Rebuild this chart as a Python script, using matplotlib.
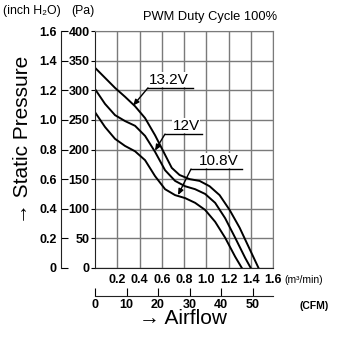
import matplotlib
matplotlib.use("Agg")
import matplotlib.pyplot as plt
from matplotlib.ticker import FixedLocator, FixedFormatter

# FAN CURVE DATA, airflow in m3/min, pressure in Pa
q_132 = [0, 0.09, 0.18, 0.27, 0.36, 0.45, 0.54, 0.63, 0.69, 0.76, 0.85, 0.94, 1.03, 1.12, 1.21, 1.30, 1.39, 1.47]
p_132 = [338, 321, 304, 289, 273, 253, 224, 191, 169, 157, 150, 147, 138, 123, 98, 68, 32, 0]

q_120 = [0, 0.09, 0.18, 0.27, 0.36, 0.45, 0.54, 0.63, 0.72, 0.81, 0.90, 0.99, 1.08, 1.17, 1.26, 1.35, 1.40]
p_120 = [302, 277, 258, 248, 240, 223, 196, 165, 147, 138, 133, 125, 110, 84, 51, 17, 0]

q_108 = [0, 0.09, 0.18, 0.27, 0.36, 0.45, 0.54, 0.63, 0.72, 0.81, 0.90, 0.99, 1.08, 1.17, 1.26, 1.32]
p_108 = [263, 238, 218, 206, 197, 182, 155, 133, 123, 118, 110, 98, 78, 51, 19, 0]

# AXIS TICKS
pa_ticks = [0, 50, 100, 150, 200, 250, 300, 350, 400]
inch_ticks = [0, 0.2, 0.4, 0.6, 0.8, 1.0, 1.2, 1.4, 1.6]
inch_labels = ["0", "0.2", "0.4", "0.6", "0.8", "1.0", "1.2", "1.4", "1.6"]
m3_ticks = [0.2, 0.4, 0.6, 0.8, 1.0, 1.2, 1.4, 1.6]
m3_labels = ["0.2", "0.4", "0.6", "0.8", "1.0", "1.2", "1.4", "1.6"]
cfm_ticks = [0, 10, 20, 30, 40, 50]

W, H = 340, 337
FONT = ["Liberation Sans", "DejaVu Sans"]
GRID = "#7a7a7a"
NUM_SIZE = 9


def fx(px):
    return px / W


def fy(py):
    return (H - py) / H


def style_numbers(labels):
    for lab in labels:
        lab.set_family(FONT)
        lab.set_fontweight("bold")
        lab.set_fontsize(NUM_SIZE)


fig = plt.figure(figsize=(W / 100, H / 100), dpi=100)
fig.patch.set_facecolor("white")

# main plot box
x0, x1, ytop, ybot = 95, 273, 31, 268
ax = fig.add_axes([fx(x0), fy(ybot), (x1 - x0) / W, (ybot - ytop) / H])
ax.set_xlim(0, 1.6)
ax.set_ylim(0, 400)
ax.xaxis.set_major_locator(FixedLocator(m3_ticks))
ax.xaxis.set_major_formatter(FixedFormatter(m3_labels))
ax.yaxis.set_major_locator(FixedLocator(pa_ticks))
ax.grid(True, color=GRID, lw=1)
ax.tick_params(axis="x", length=0, pad=4)
ax.tick_params(axis="y", length=3, width=0.8, pad=1, direction="out")
style_numbers(ax.get_xticklabels() + ax.get_yticklabels())
for side in ["top", "right"]:
    ax.spines[side].set_color(GRID)
for side in ["left", "bottom"]:
    ax.spines[side].set_color("#222222")

for q, p in [(q_132, p_132), (q_120, p_120), (q_108, p_108)]:
    ax.plot(q, p, color="black", lw=1.4, solid_joinstyle="round")


# labels with leader lines
def label(text, tx, ty, u0, u1, tip):
    ax.text(tx, ty, text, ha="center", va="bottom", fontsize=11,
            family=FONT, bbox=dict(facecolor="white", edgecolor="none", pad=0.3))
    ax.plot([u0, u1], [ty - 2, ty - 2], color="black", lw=1)
    ax.annotate("", xy=tip, xytext=(u0, ty - 2),
                arrowprops=dict(arrowstyle="-|>,head_length=0.35,head_width=0.15",
                                color="black", lw=1, shrinkA=0, shrinkB=0))


label("13.2V", 0.665, 306, 0.476, 0.881, (0.342, 274))
label("12V", 0.818, 228, 0.629, 0.962, (0.539, 198))
label("10.8V", 1.115, 169, 0.863, 1.321, (0.746, 123))

# inch H2O axis
ax_in = fig.add_axes([fx(61), fy(ybot), 0.01, (ybot - ytop) / H])
ax_in.set_ylim(0, 1.6)
ax_in.set_xticks([])
ax_in.yaxis.set_major_locator(FixedLocator(inch_ticks))
ax_in.yaxis.set_major_formatter(FixedFormatter(inch_labels))
ax_in.tick_params(axis="y", direction="in", length=5, width=0.8, pad=3)
style_numbers(ax_in.get_yticklabels())
for side in ["top", "right", "bottom"]:
    ax_in.spines[side].set_visible(False)
ax_in.spines["left"].set_color("#222222")
ax_in.patch.set_visible(False)

# CFM axis
ax_cfm = fig.add_axes([fx(x0), fy(296), (x1 - x0) / W, 0.01])
ax_cfm.set_xlim(0, 1.6 / 0.028317)
ax_cfm.set_yticks([])
ax_cfm.xaxis.set_major_locator(FixedLocator(cfm_ticks))
ax_cfm.tick_params(axis="x", direction="in", length=6, width=0.8, pad=2)
style_numbers(ax_cfm.get_xticklabels())
for side in ["top", "right", "left"]:
    ax_cfm.spines[side].set_visible(False)
ax_cfm.spines["bottom"].set_color("#222222")
ax_cfm.patch.set_visible(False)

# extra texts
fig.text(fx(3), fy(11), "(inch H\u2082O)", fontsize=8.8, family=FONT, va="center")
fig.text(fx(71), fy(11), "(Pa)", fontsize=8.8, family=FONT, va="center")
fig.text(fx(210), fy(17), "PWM Duty Cycle 100%", fontsize=9.3, family=FONT,
         ha="center", va="center")
fig.text(fx(284), fy(280), "(m\u00b3/min)", fontsize=7.5, family=FONT, va="center")
fig.text(fx(300), fy(306), "(CFM)", fontsize=7.5, family=FONT, fontweight="bold",
         va="center")
fig.text(fx(139), fy(319), "\u2192 Airflow", fontsize=15, family=FONT,
         ha="left", va="center")
fig.text(fx(22), fy(140), "\u2192 Static Pressure", fontsize=15, family=FONT,
         ha="center", va="center", rotation=90)

fig.savefig("out.png", dpi=100, facecolor="white")
